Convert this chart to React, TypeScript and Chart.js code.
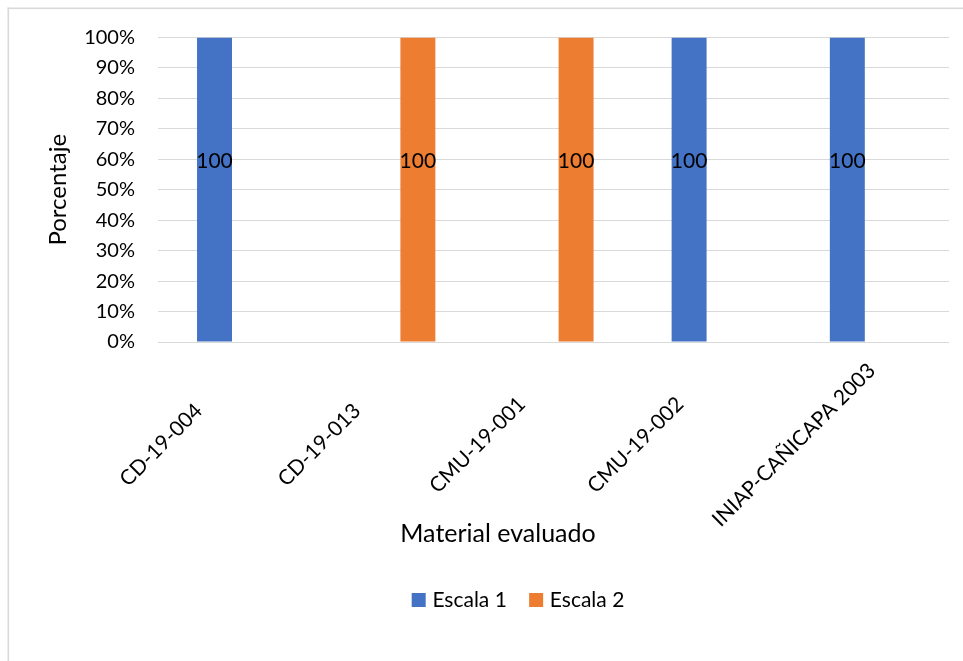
import React, { useEffect, useRef } from "react";
import { Chart, registerables } from "chart.js";

Chart.register(...registerables);

// Materials evaluated and the share (%) of each scale per material
const categories = ["CD-19-004", "CD-19-013", "CMU-19-001", "CMU-19-002", "INIAP-CAÑICAPA 2003"];
const escala1 = [100, 0, 0, 100, 100];
const escala2 = [0, 100, 100, 0, 0];
const seriesNames = ["Escala 1", "Escala 2"];
const seriesColors = ["#4472C4", "#ED7D31"];
const yTitle = "Porcentaje";
const xTitle = "Material evaluado";

const FONT = "Lato, 'Liberation Sans', sans-serif";
const W = 963;
const H = 661;

// white background plus the thin grey chart frame
const framePlugin = {
  id: "frame",
  beforeDraw(chart: any) {
    const { ctx } = chart;
    ctx.save();
    ctx.fillStyle = "#ffffff";
    ctx.fillRect(0, 0, W, H);
    ctx.fillStyle = "#d9d9d9";
    ctx.fillRect(7.5, 7.5, W, 1.6);
    ctx.fillRect(7.5, 7.5, 1.6, H);
    ctx.restore();
  },
};

// value labels inside the bars
const valueLabelPlugin = {
  id: "valueLabels",
  afterDatasetsDraw(chart: any) {
    const { ctx } = chart;
    ctx.save();
    ctx.font = `21px ${FONT}`;
    ctx.fillStyle = "#000000";
    ctx.textAlign = "center";
    ctx.textBaseline = "middle";
    chart.data.datasets.forEach((ds: any, di: number) => {
      const meta = chart.getDatasetMeta(di);
      meta.data.forEach((bar: any, i: number) => {
        const v = ds.data[i];
        if (!v) return;
        const y = bar.y + (bar.base - bar.y) * 0.407;
        ctx.fillText(String(v), bar.x, y);
      });
    });
    ctx.restore();
  },
};

// category labels, rotated 45° and centred below each slot
const categoryLabelPlugin = {
  id: "categoryLabels",
  afterDraw(chart: any) {
    const { ctx } = chart;
    const xs = chart.scales.x;
    ctx.save();
    ctx.font = `21px ${FONT}`;
    ctx.fillStyle = "#000000";
    ctx.textAlign = "center";
    ctx.textBaseline = "middle";
    (chart.data.labels as string[]).forEach((label, i) => {
      const px = xs.getPixelForTick(i) - 76;
      const py = xs.top + 103;
      ctx.save();
      ctx.translate(px, py);
      ctx.rotate(-Math.PI / 4);
      ctx.fillText(label, 0, 0);
      ctx.restore();
    });
    ctx.restore();
  },
};

// x-axis title and legend along the bottom
const bottomPlugin = {
  id: "bottomTexts",
  afterDraw(chart: any) {
    const { ctx } = chart;
    ctx.save();
    ctx.fillStyle = "#000000";
    ctx.font = `25px ${FONT}`;
    ctx.textAlign = "center";
    ctx.textBaseline = "alphabetic";
    ctx.fillText(xTitle, 498, 542);

    ctx.font = `21px ${FONT}`;
    ctx.textAlign = "left";
    const box = 14;
    const gapText = 6.7;
    const gapItem = 22.3;
    const items = chart.data.datasets.map((ds: any) => ({
      label: ds.label,
      color: ds.backgroundColor,
      w: ctx.measureText(ds.label).width,
    }));
    const total =
      items.reduce((s: number, it: any) => s + box + gapText + it.w, 0) + gapItem * (items.length - 1);
    let x = 518 - total / 2;
    const midY = 600;
    items.forEach((it: any) => {
      ctx.fillStyle = it.color;
      ctx.fillRect(x, midY - box / 2, box, box);
      ctx.fillStyle = "#000000";
      ctx.fillText(it.label, x + box + gapText, 607);
      x += box + gapText + it.w + gapItem;
    });
    ctx.restore();
  },
};

export default function App() {
  const canvasRef = useRef<HTMLCanvasElement | null>(null);

  useEffect(() => {
    if (!canvasRef.current) return;
    const chart = new Chart(canvasRef.current, {
      type: "bar",
      data: {
        labels: categories,
        datasets: [
          {
            label: seriesNames[0],
            data: escala1,
            backgroundColor: seriesColors[0],
            borderWidth: 0,
            categoryPercentage: 0.571,
            barPercentage: 0.774,
          },
          {
            label: seriesNames[1],
            data: escala2,
            backgroundColor: seriesColors[1],
            borderWidth: 0,
            categoryPercentage: 0.571,
            barPercentage: 0.774,
          },
        ],
      },
      options: {
        animation: false,
        responsive: false,
        maintainAspectRatio: false,
        devicePixelRatio: 1,
        layout: { padding: { left: 9, right: 14, top: 37.5, bottom: 59 } },
        plugins: {
          legend: { display: false },
          tooltip: { enabled: false },
        },
        scales: {
          x: {
            grid: { display: false, drawTicks: false },
            border: { display: false },
            ticks: { display: false, autoSkip: false },
            afterFit: (s: any) => {
              s.height = 260;
            },
          },
          y: {
            min: 0,
            max: 100,
            grid: { color: "#d9d9d9", lineWidth: 1, drawTicks: false },
            border: { display: false },
            ticks: {
              stepSize: 10,
              padding: 23,
              color: "#000000",
              font: { family: FONT, size: 20 },
              callback: (v: any) => `${v}%`,
            },
            title: {
              display: true,
              text: yTitle,
              color: "#000000",
              font: { family: FONT, size: 24 },
              padding: { top: 35, bottom: 0 },
            },
            afterFit: (s: any) => {
              s.width = 149;
            },
          },
        },
      },
      plugins: [framePlugin, valueLabelPlugin, categoryLabelPlugin, bottomPlugin],
    });
    return () => chart.destroy();
  }, []);

  return (
    <div style={{ position: "fixed", left: 0, top: 0, width: W, height: H, overflow: "hidden", background: "#fff" }}>
      <canvas ref={canvasRef} width={W} height={H} style={{ display: "block", width: W, height: H }} />
    </div>
  );
}
